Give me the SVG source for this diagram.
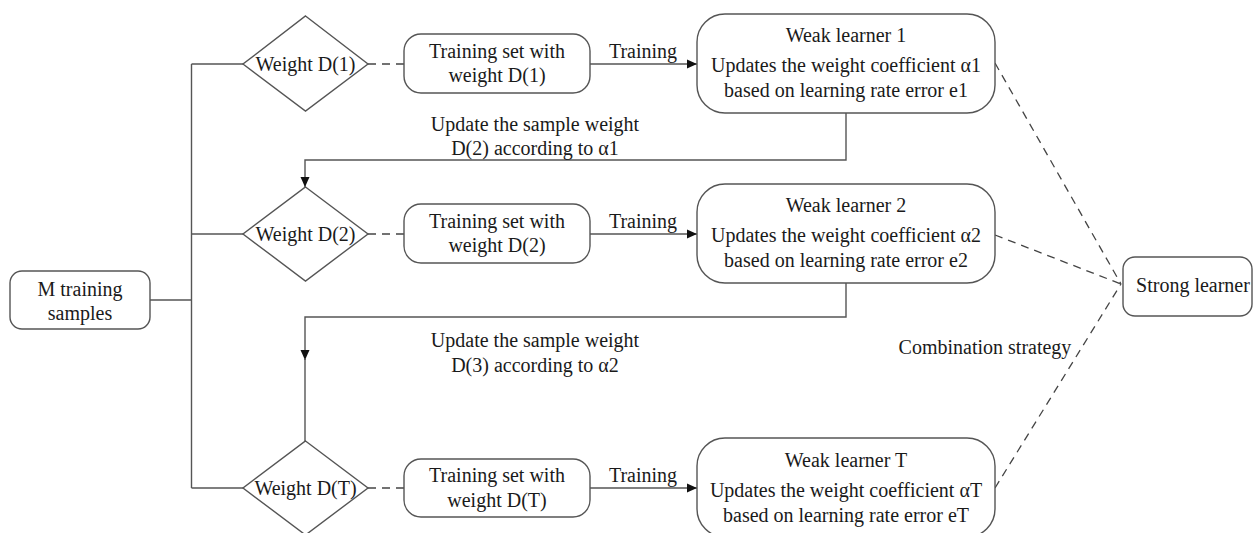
<svg xmlns="http://www.w3.org/2000/svg" width="1253" height="533" viewBox="0 0 1253 533">
<style>
.s{fill:#fff;stroke:#555;stroke-width:1.4}
.l{fill:none;stroke:#555;stroke-width:1.4}
.d{fill:none;stroke:#444;stroke-width:1.3;stroke-dasharray:8 6}
text{font-family:"Liberation Serif","Times New Roman",serif;font-size:20px;fill:#1a1a1a;text-anchor:middle}
</style>
<defs>
<marker id="ah" viewBox="0 0 10 10" refX="10" refY="5" markerWidth="10" markerHeight="10" markerUnits="userSpaceOnUse" orient="auto">
<path d="M0,0.5 L10,5 L0,9.5 z" fill="#111"/>
</marker>
</defs>
<rect width="1253" height="533" fill="#fff"/>
<g id="connectors">
<path class="l" d="M150,300 H191.5"/>
<path class="l" d="M191.5,64 V488"/>
<path class="l" d="M191.5,64 H243"/>
<path class="l" d="M191.5,234 H243"/>
<path class="l" d="M191.5,488 H243"/>
<path class="d" d="M368,64 H404"/>
<path class="d" d="M368,234 H404"/>
<path class="d" d="M368,488 H404"/>
<path class="l" d="M590,64 H697" marker-end="url(#ah)"/>
<path class="l" d="M590,234 H697" marker-end="url(#ah)"/>
<path class="l" d="M590,488 H697" marker-end="url(#ah)"/>
<path class="l" d="M846,113 V160 H305 V187" marker-end="url(#ah)"/>
<path class="l" d="M846,283 V317 H305 V360" marker-end="url(#ah)"/>
<path class="l" d="M305,358 V441"/>
<path class="d" d="M995,63 L1121,284"/>
<path class="d" d="M995,235 L1121,284"/>
<path class="d" d="M995,488 L1121,284"/>
<text x="643" y="58">Training</text>
<text x="643" y="228">Training</text>
<text x="643" y="482">Training</text>
<text x="535" y="131">Update the sample weight</text>
<text x="535" y="155">D(2) according to α1</text>
<text x="535" y="347">Update the sample weight</text>
<text x="535" y="372">D(3) according to α2</text>
<text x="985" y="354">Combination strategy</text>
</g>
<g id="m-samples">
<rect class="s" x="10" y="271" width="140" height="58" rx="12"/>
<text x="80" y="296">M training</text>
<text x="80" y="320">samples</text>
</g>
<g id="weight-d1">
<polygon class="s" points="305.5,16 368,64 305.5,111 243,64"/>
<text x="305.5" y="71">Weight D(1)</text>
</g>
<g id="weight-d2">
<polygon class="s" points="305.5,187 368,234 305.5,281 243,234"/>
<text x="305.5" y="241">Weight D(2)</text>
</g>
<g id="weight-dt">
<polygon class="s" points="305.5,441 368,488 305.5,535 243,488"/>
<text x="305.5" y="495">Weight D(T)</text>
</g>
<g id="set-1">
<rect class="s" x="404" y="34" width="186" height="59" rx="17"/>
<text x="497" y="58">Training set with</text>
<text x="497" y="82">weight D(1)</text>
</g>
<g id="set-2">
<rect class="s" x="404" y="204" width="186" height="59" rx="17"/>
<text x="497" y="228">Training set with</text>
<text x="497" y="252">weight D(2)</text>
</g>
<g id="set-t">
<rect class="s" x="404" y="459" width="186" height="58" rx="17"/>
<text x="497" y="482">Training set with</text>
<text x="497" y="507">weight D(T)</text>
</g>
<g id="weak-1">
<rect class="s" x="697" y="14" width="298" height="99" rx="28"/>
<text x="846" y="42">Weak learner 1</text>
<text x="846" y="72">Updates the weight coefficient α1</text>
<text x="846" y="97">based on learning rate error e1</text>
</g>
<g id="weak-2">
<rect class="s" x="697" y="184" width="298" height="99" rx="28"/>
<text x="846" y="212">Weak learner 2</text>
<text x="846" y="242">Updates the weight coefficient α2</text>
<text x="846" y="267">based on learning rate error e2</text>
</g>
<g id="weak-t">
<rect class="s" x="697" y="438" width="298" height="99" rx="28"/>
<text x="846" y="467">Weak learner T</text>
<text x="846" y="497">Updates the weight coefficient αT</text>
<text x="846" y="522">based on learning rate error eT</text>
</g>
<g id="strong">
<rect class="s" x="1123" y="257" width="129" height="59" rx="12"/>
<text x="1193" y="292">Strong learner</text>
</g>
</svg>
